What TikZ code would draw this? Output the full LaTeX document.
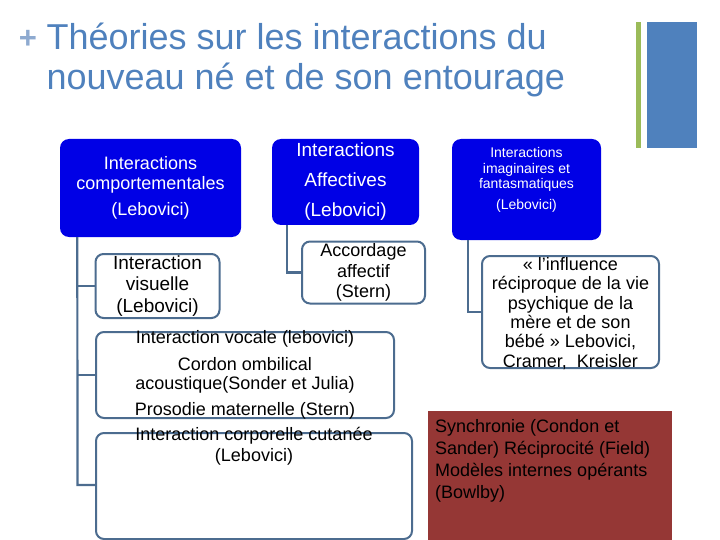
\documentclass[tikz,border=0pt]{standalone}
\usepackage{fontspec}
\setmainfont{Liberation Sans}
\usetikzlibrary{positioning}
\definecolor{titleblue}{RGB}{79,129,189}
\definecolor{plusblue}{RGB}{142,170,208}
\definecolor{bargreen}{RGB}{155,187,89}
\definecolor{boxblue}{RGB}{0,0,230}
\definecolor{linkblue}{RGB}{76,108,143}
\definecolor{syncred}{RGB}{149,55,53}

\begin{document}
\begin{tikzpicture}[x=1pt,y=-1pt,
  parent/.style={rounded corners=9pt,fill=boxblue,text=white,align=center,inner sep=0pt},
  child/.style={rounded corners=8pt,draw=linkblue,line width=2pt,fill=white,align=center,inner sep=0pt},
  link/.style={draw=linkblue,line width=2.2pt},
  txt/.style={align=center,inner sep=0pt,font=\fontsize{18}{19}\selectfont}]
\useasboundingbox (0,0) rectangle (720,540);
%title
\node[text=plusblue,font=\fontsize{31}{31}\selectfont\bfseries] (plus) at (28,39) {+};
\node[anchor=base west,text=titleblue,font=\fontsize{36}{40}\selectfont] (title1) at (43,50) {Théories sur les interactions du};
\node[anchor=base west,text=titleblue,font=\fontsize{36}{40}\selectfont] (title2) at (43,90) {nouveau né et de son entourage};
\fill[bargreen] (636,22) rectangle (641,148);
\fill[titleblue] (647,22) rectangle (697,148);
%parents
\node[parent,minimum width=181pt,minimum height=98pt,font=\fontsize{18}{20}\selectfont] (comp) at (150.5,188) {Interactions\\comportementales\\[6pt](Lebovici)};
\node[parent,minimum width=147pt,minimum height=86pt,font=\fontsize{19}{30}\selectfont] (aff) at (345.5,182) {Interactions\\Affectives\\(Lebovici)};
\node[parent,minimum width=149pt,minimum height=101pt] (fant) at (526.5,189.5) {};
\node[txt,text=white,font=\fontsize{14}{15.5}\selectfont] (fanttxt) at (526.5,180) {Interactions\\imaginaires et\\fantasmatiques\\[5pt](Lebovici)};
%children
\node[child,minimum width=124pt,minimum height=64pt,font=\fontsize{19}{21.5}\selectfont] (visu) at (157.5,286) {Interaction\\visuelle\\(Lebovici)};
\node[child,minimum width=123pt,minimum height=62pt,font=\fontsize{18}{20.5}\selectfont] (acc) at (363.5,272.5) {Accordage\\affectif\\(Stern)};
\node[child,minimum width=298pt,minimum height=86pt] (voc) at (245,375) {};
\node[txt] (voctxt) at (245,375) {Interaction vocale (lebovici)\\[8pt]Cordon ombilical\\acoustique(Sonder et Julia)\\[7pt]Prosodie maternelle (Stern)};
\node[child,minimum width=316pt,minimum height=106pt] (cut) at (254,486) {};
\node[txt,font=\fontsize{18}{21}\selectfont] (cuttxt) at (254,446.5) {Interaction corporelle cutanée\\(Lebovici)};
\node[child,minimum width=177pt,minimum height=112pt] (infl) at (570.5,312) {};
\node[txt,font=\fontsize{18}{19.4}\selectfont] (infltxt) at (570.5,313.5) {« l’influence\\réciproque de la vie\\psychique de la\\mère et de son\\bébé » Lebovici,\\Cramer,~ Kreisler};
\node[fill=syncred,minimum width=244pt,minimum height=129pt,inner sep=0pt] (sync) at (550,475.5) {};
\node[anchor=north west,align=left,inner sep=0pt,font=\fontsize{18}{22}\selectfont] (synctxt) at (435,419) {Synchronie (Condon et\\Sander) Réciprocité (Field)\\Modèles internes opérants\\(Bowlby)};
%links
\coordinate (compend) at (77.5,485);
\draw[link] ([xshift=17.5pt]comp.south west) -- (compend) -- (compend -| cut.west);
\draw[link] (visu.west) -- (visu.west -| compend);
\draw[link] (voc.west) -- (voc.west -| compend);
\draw[link] ([xshift=15pt]aff.south west) |- (acc.west);
\draw[link] ([xshift=16pt]fant.south west) |- (infl.west);
\end{tikzpicture}
\end{document}
